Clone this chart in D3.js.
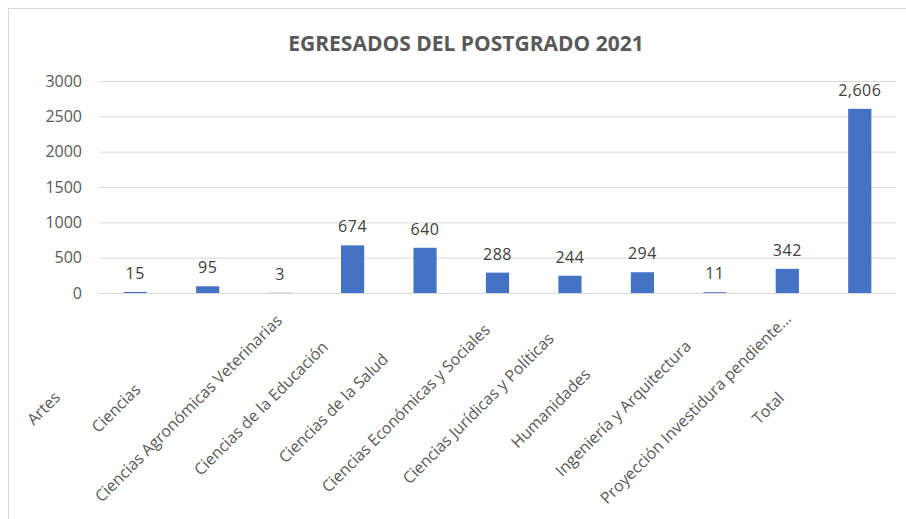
<!DOCTYPE html>
<html>
<head>
<meta charset="utf-8">
<script src="https://cdn.jsdelivr.net/npm/d3@7"></script>
<style>
  body { margin: 0; background: #fff; }
  text { font-family: "Open Sans", sans-serif; }
</style>
</head>
<body>
<svg id="chart" width="906" height="519"></svg>
<script>
// egresados por facultad
var categories = ["Artes", "Ciencias", "Ciencias Agronómicas Veterinarias", "Ciencias de la Educación",
  "Ciencias de la Salud", "Ciencias Económicas y Sociales", "Ciencias Jurídicas y Políticas",
  "Humanidades", "Ingeniería y Arquitectura", "Proyección Investidura pendiente…", "Total"];
var values = [15, 95, 3, 674, 640, 288, 244, 294, 11, 342, 2606];
var yTicks = [0, 500, 1000, 1500, 2000, 2500, 3000];
var title = "EGRESADOS DEL POSTGRADO 2021";

var svg = d3.select('#chart');

// chart frame (only left and top edges show)
svg.append('rect')
  .attr('x', 8.5).attr('y', 8.5)
  .attr('width', 1000).attr('height', 1000)
  .attr('fill', 'none')
  .attr('stroke', '#d9d9d9');

var x = d3.scaleBand()
  .domain(categories)
  .range([99, 896])
  .paddingInner(0.68)
  .paddingOuter(0.34);

var y = d3.scaleLinear()
  .domain([0, 3000])
  .range([293, 81]);

svg.append('text')
  .attr('x', 466)
  .attr('y', 43)
  .attr('text-anchor', 'middle')
  .attr('dominant-baseline', 'central')
  .attr('font-size', '21px')
  .attr('font-weight', 'bold')
  .attr('fill', '#595959')
  .text(title);

// gridlines + y labels
var yAxis = svg.append('g')
  .attr('transform', 'translate(99,0)')
  .call(d3.axisLeft(y).tickValues(yTicks).tickFormat(d3.format('d')).tickSize(-797).tickPadding(17));
yAxis.select('.domain').remove();
yAxis.selectAll('line').attr('stroke', '#d9d9d9');
yAxis.selectAll('text')
  .attr('font-size', '16px')
  .attr('fill', '#595959');

// bars
svg.append('g').selectAll('rect')
  .data(values)
  .enter().append('rect')
  .attr('x', function(d, i) { return x(categories[i]); })
  .attr('y', function(d) { return y(d); })
  .attr('width', x.bandwidth())
  .attr('height', function(d) { return y(0) - y(d); })
  .attr('fill', '#4472c4');

// data labels
svg.append('g').selectAll('text')
  .data(values)
  .enter().append('text')
  .attr('x', function(d, i) { return x(categories[i]) + x.bandwidth() / 2; })
  .attr('y', function(d) { return y(d) - 19; })
  .attr('text-anchor', 'middle')
  .attr('dominant-baseline', 'central')
  .attr('font-size', '16px')
  .attr('letter-spacing', '0.5px')
  .attr('fill', '#404040')
  .text(function(d) { return d3.format(',')(d); });

// category labels, rotated, sitting left of their bar like in the original
svg.append('g').selectAll('text')
  .data(categories)
  .enter().append('text')
  .attr('transform', function(d) {
    var cx = x(d) + x.bandwidth() / 2 - 92;
    return 'translate(' + cx + ',408) rotate(-45)';
  })
  .attr('text-anchor', 'middle')
  .attr('dominant-baseline', 'central')
  .attr('font-size', '16px')
  .attr('fill', '#595959')
  .text(function(d) { return d; });
</script>
</body>
</html>
